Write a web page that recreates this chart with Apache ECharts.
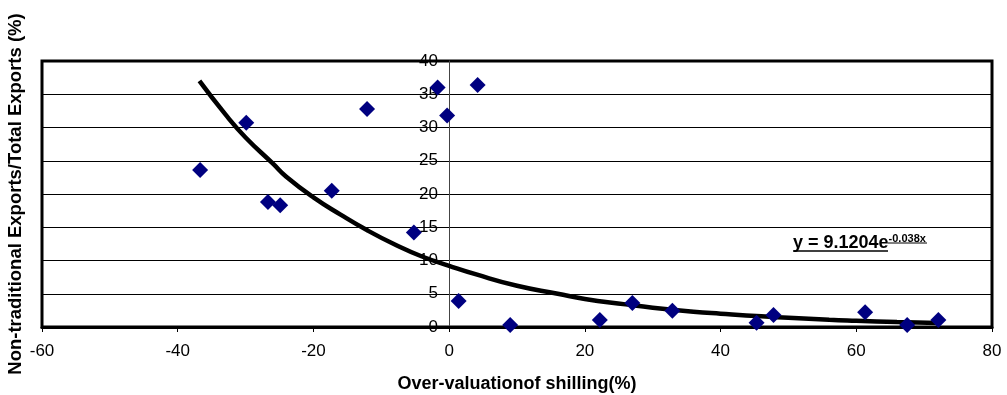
<!DOCTYPE html>
<html>
<head>
<meta charset="utf-8">
<script src="https://cdn.jsdelivr.net/npm/echarts@6/dist/echarts.min.js"></script>
<style>
  html, body { margin: 0; padding: 0; background: #fff; }
  #container { width: 1007px; height: 395px; }
</style>
</head>
<body>
<div id="container"></div>
<script>
// over-valuation of shilling (%) vs non-traditional / total exports (%)
var overValuation = [-36.7, -29.9, -26.7, -24.9, -17.3, -12.1, -5.2, -1.7, -0.3, 4.2,
                     1.4, 9.0, 22.2, 27.0, 32.9, 45.3, 47.8, 61.3, 67.5, 72.1];
var exportShare   = [23.6, 30.7, 18.8, 18.3, 20.5, 32.8, 14.2, 36.0, 31.8, 36.4,
                     3.9, 0.3, 1.05, 3.6, 2.45, 0.65, 1.8, 2.2, 0.3, 1.05];

// trend line
var trendX = [-36.8, -33, -30, -26, -24, -20, -16, -12, -8, -4, 0, 4, 10, 16, 20, 26, 30, 36, 40, 46, 50, 56, 60, 66, 72];
var trendY = [37.0, 32.0, 28.5, 24.6, 22.6, 19.5, 16.9, 14.5, 12.4, 10.6, 9.2, 7.9, 6.2, 5.0, 4.2, 3.4, 2.9, 2.3, 2.0, 1.6, 1.4, 1.1, 0.95, 0.75, 0.6];

var xTicks = { min: -60, max: 80, interval: 20 };
var yTicks = { min: 0, max: 40, interval: 5 };

var points = overValuation.map(function (x, i) { return [x, exportShare[i]]; });
var trend = trendX.map(function (x, i) { return [x, trendY[i]]; });

var font = 'Liberation Sans, Arial, sans-serif';

var dom = document.getElementById('container');
var myChart = echarts.init(dom, null, { renderer: 'canvas' });

var option = {
    backgroundColor: '#fff',
    animation: false,
    textStyle: { fontFamily: font },
    grid: {
        left: 42, right: 15, top: 61, bottom: 68,
        outerBoundsMode: 'none',
        show: true, borderColor: '#000', borderWidth: 3
    },
    xAxis: {
        type: 'value',
        min: xTicks.min, max: xTicks.max, interval: xTicks.interval,
        name: 'Over-valuationof shilling(%)',
        nameLocation: 'middle',
        nameGap: 48,
        nameTextStyle: { color: '#000', fontSize: 18, fontWeight: 'bold' },
        axisLine: { onZero: false, lineStyle: { color: '#000', width: 3 } },
        axisTick: { show: true, length: 5, lineStyle: { color: '#000', width: 1 } },
        axisLabel: { color: '#000', fontSize: 17, margin: 16 },
        splitLine: { show: false }
    },
    yAxis: [
        {
            // left side: title and gridlines only
            type: 'value',
            min: yTicks.min, max: yTicks.max, interval: yTicks.interval,
            name: 'Non-traditional Exports/Total Exports (%)',
            nameLocation: 'middle',
            nameGap: 17,
            nameTextStyle: { color: '#000', fontSize: 18.5, fontWeight: 'bold' },
            axisLine: { show: false },
            axisTick: { show: false },
            axisLabel: { show: false },
            splitLine: { show: true, lineStyle: { color: '#000', width: 1 } }
        },
        {
            // axis drawn through x = 0 with its labels
            type: 'value',
            position: 'left',
            offset: -407,
            min: yTicks.min, max: yTicks.max, interval: yTicks.interval,
            axisLine: { show: true, onZero: false, lineStyle: { color: '#444', width: 1 } },
            axisTick: { show: false },
            axisLabel: { color: '#000', fontSize: 17, margin: 11 },
            splitLine: { show: false }
        }
    ],
    series: [
        {
            type: 'line',
            data: trend,
            smooth: true,
            showSymbol: false,
            lineStyle: { color: '#000', width: 4.5 },
            z: 2
        },
        {
            type: 'scatter',
            data: points,
            symbol: 'diamond',
            symbolSize: 16,
            itemStyle: { color: '#000080', opacity: 1 },
            z: 3
        }
    ],
    graphic: [
        {
            type: 'text',
            left: 793, top: 233,
            style: {
                text: '{a|y = 9.1204e}{b|-0.038x}',
                rich: {
                    a: { fontSize: 18, fontWeight: 'bold', fill: '#000', fontFamily: font },
                    b: { fontSize: 11, fontWeight: 'bold', fill: '#000', fontFamily: font, verticalAlign: 'top', padding: [0, 0, 9, 0] }
                }
            }
        },
        {
            type: 'line',
            shape: { x1: 793, y1: 251, x2: 888, y2: 251 },
            style: { stroke: '#000', lineWidth: 1.5 }
        },
        {
            type: 'line',
            shape: { x1: 888, y1: 243, x2: 927, y2: 243 },
            style: { stroke: '#000', lineWidth: 1 }
        }
    ]
};

myChart.setOption(option);
window.addEventListener('resize', myChart.resize);
</script>
</body>
</html>
